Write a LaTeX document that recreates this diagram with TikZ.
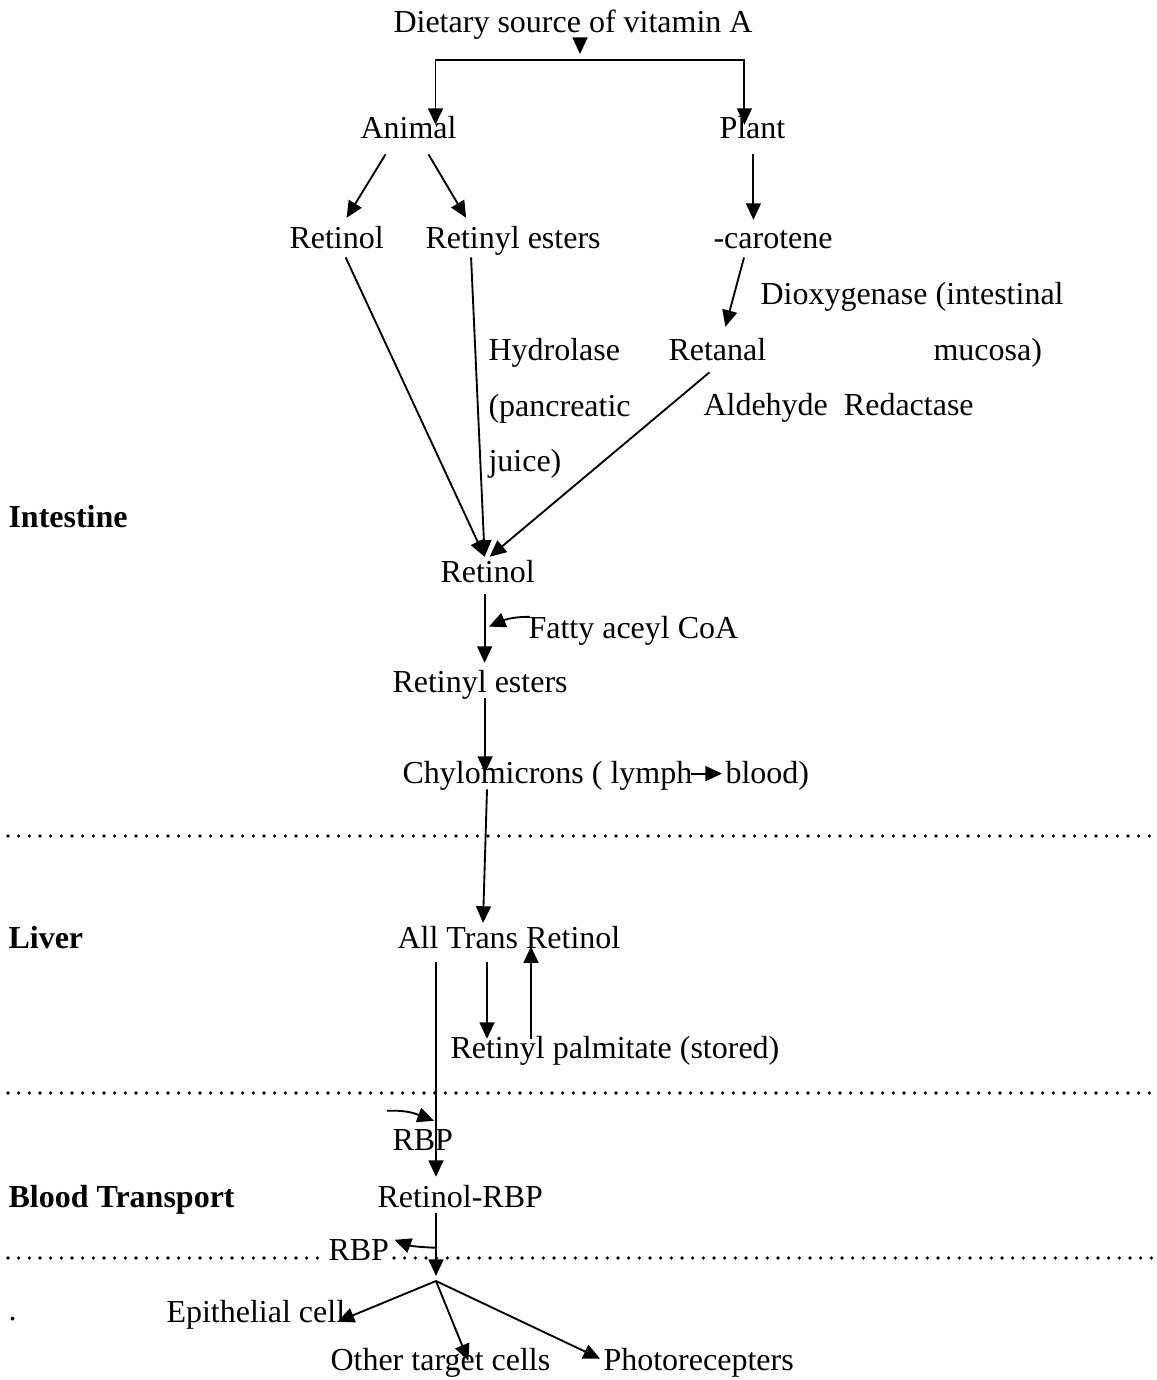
\documentclass[tikz,border=0pt]{standalone}
\usepackage{fontspec}
\setmainfont{Liberation Serif}
\usetikzlibrary{arrows.meta,calc}

\begin{document}
\begin{tikzpicture}[x=0.375pt, y=-0.375pt,
  font=\fontsize{12}{14}\selectfont,
  lbl/.style={inner sep=0pt, anchor=base west, text height=0.7em, text depth=0.22em},
  sect/.style={lbl, font=\fontsize{12}{14}\selectfont\bfseries},
  note/.style={inner sep=0pt, anchor=north west, align=left, font=\fontsize{12}{20.8}\selectfont},
  arr/.style={-{Triangle[length=6.2pt, width=5.6pt]}, line width=0.7pt},
  dotline/.style={line width=1.35pt, line cap=round, dash pattern=on 0pt off 4pt}]
  \useasboundingbox (0,0) rectangle (1157,1380);
  \node[lbl] (src) at (393,32) {Dietary source of vitamin A};
  \node[lbl] (animal) at (360,138) {Animal};
  \node[lbl] (plant) at (719,138) {Plant};
  \node[lbl] (ret1) at (289,248) {Retinol};
  \node[lbl] (esters1) at (425,248) {Retinyl esters};
  \node[lbl] (carot) at (713,248) {-carotene};
  \node[lbl] (dioxy) at (760,304) {Dioxygenase (intestinal};
  \node[lbl] (retanal) at (668,360) {Retanal};
  \node[lbl] (mucosa) at (933,360) {mucosa)};
  \node[note] (hydro) at (488,338) {Hydrolase\\(pancreatic\\juice)};
  \node[lbl] (aldred) at (703,415) {Aldehyde\ \ Redactase};
  \node[sect] (intestine) at (8,527) {Intestine};
  \node[lbl] (ret2) at (440,582) {Retinol};
  \node[lbl] (fatty) at (528,638) {Fatty aceyl CoA};
  \node[lbl] (esters2) at (392,692) {Retinyl esters};
  \node[lbl] (chylo) at (402,783) {Chylomicrons ( lymph};
  \node[lbl] (blood) at (725,783) {blood)};
  \node[sect] (liver) at (8,948) {Liver};
  \node[lbl] (alltrans) at (397,948) {All Trans Retinol};
  \node[lbl] (palm) at (450,1058) {Retinyl palmitate (stored)};
  \node[lbl] (rbp1) at (392,1150) {RBP};
  \node[sect] (bloodtr) at (8,1207) {Blood Transport};
  \node[lbl] (retrbp) at (377,1207) {Retinol-RBP};
  \node[lbl] (rbp2) at (328,1260) {RBP};
  \node[lbl] (dot) at (8,1320) {.};
  \node[lbl] (epi) at (166,1322) {Epithelial cell};
  \node[lbl] (other) at (330,1370) {Other target cells};
  \node[lbl] (photo) at (603,1370) {Photorecepters};
  \coordinate (fork) at (580,60);
  \coordinate (split) at (436,1281);
  \draw[arr] (src.south -| fork) -- ($(fork)+(0,-6)$);
  \draw[arr] (fork) -| ($(animal.north)+(27,6)$);
  \draw[arr] (fork) -| ($(plant.north)+(-8,6)$);
  \draw[arr] ($(animal.south)+(-23,10)$) -- ($(ret1.north)+(10,-11)$);
  \draw[arr] ($(animal.south)+(20,10)$) -- ($(esters1.north)+(-47,-11)$);
  \draw[arr] ($(plant.south)+(1,10)$) -- ($(plant.south |- carot.north)+(1,-9)$);
  \draw[arr] ($(carot.south)+(-29,3)$) -- ($(retanal.north)+(8,-14)$);
  \draw[arr] ($(ret1.south)+(9,3)$) -- ($(ret2.north)+(-3,-6)$);
  \draw[arr] ($(esters1.south)+(-42,3)$) -- ($(ret2.north)+(-3,-6)$);
  \draw[arr] ($(retanal.south)+(-8,6)$) -- ($(ret2.north)+(2,-6)$);
  \draw[arr] ($(ret2.south)+(-3,6)$) -- ($(ret2.south |- esters2.north)+(-3,-10)$);
  \draw[arr] ($(fatty.north west)+(2,-2)$) .. controls +(-20,0) and +(14,-6) .. ($(fatty.west)+(-39,-5)$);
  \draw[arr] ($(esters2.south)+(5,0)$) -- ($(esters2.south |- chylo.north)+(5,9)$);
  \draw[arr] ($(chylo.east)+(-2,-3)$) -- ($(blood.west)+(-3,-3)$);
  \draw[arr] ($(chylo.south west)+(85,0)$) -- ($(alltrans.north west)+(86,-6)$);
  \draw[arr] ($(alltrans.south west)+(90,8)$) -- ($(alltrans.south west |- palm.north)+(90,0)$);
  \draw[arr] ($(palm.north west)+(81,0)$) -- ($(alltrans.south west)+(134,-8)$);
  \draw[arr] ($(alltrans.south west)+(39,8)$) -- ($(retrbp.north west)+(59,-11)$);
  \draw[arr] ($(rbp1.north west)+(-5,-20)$) .. controls +(22,-1) and +(-16,-6) .. ($(rbp1.north west)+(42,-10)$);
  \draw[arr] ($(retrbp.south west)+(59,0)$) -- ($(split)+(0,-5)$);
  \draw[arr] ($(rbp2.north east)+(47,7)$) .. controls +(-22,-1) and +(16,6) .. ($(rbp2.north east)+(5,-1)$);
  \draw[arr] (split) -- ($(epi.east)+(-8,6)$);
  \draw[arr] (split) -- ($(other.north)+(28,10)$);
  \draw[arr] (split) -- ($(photo.west)+(-3,-5)$);
  \draw[dotline] (8,836) -- (1152,836);
  \draw[dotline] (8,1093) -- (1152,1093);
  \draw[dotline] (8,1258) -- (322,1258);
  \draw[dotline] (394,1258) -- (1152,1258);
\end{tikzpicture}
\end{document}
